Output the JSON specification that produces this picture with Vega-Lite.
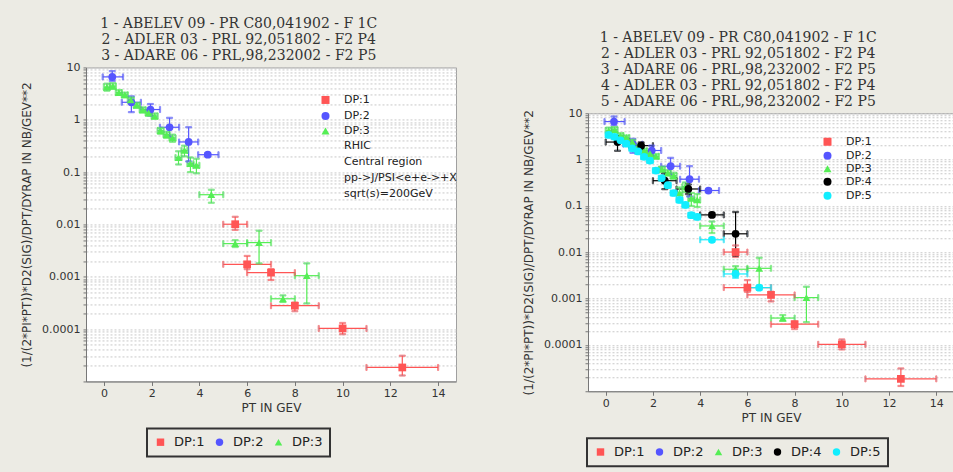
{
  "$schema": "https://vega.github.io/schema/vega-lite/v6.json",
  "background": "#ecebe4",
  "padding": {"left": 20, "top": 16, "right": 0, "bottom": 0},
  "datasets": {
    "all": [
      {"dp": "DP:1", "x": 5.5, "xlo": 5, "xhi": 6, "y": 0.0101, "ylo": 0.0079, "yhi": 0.014},
      {"dp": "DP:1", "x": 6, "xlo": 5, "xhi": 7, "y": 0.00173, "ylo": 0.0014, "yhi": 0.0025},
      {"dp": "DP:1", "x": 7, "xlo": 6, "xhi": 8, "y": 0.0012, "ylo": 0.00087, "yhi": 0.0014},
      {"dp": "DP:1", "x": 8, "xlo": 7, "xhi": 9, "y": 0.00028, "ylo": 0.00022, "yhi": 0.00032},
      {"dp": "DP:1", "x": 10, "xlo": 9, "xhi": 11, "y": 0.000103, "ylo": 0.00008, "yhi": 0.000131},
      {"dp": "DP:1", "x": 12.5, "xlo": 11, "xhi": 14, "y": 0.0000185, "ylo": 0.000013, "yhi": 0.000031},
      {"dp": "DP:2", "x": 0.35, "xlo": -0.05, "xhi": 0.8, "y": 6.6, "ylo": 5.5, "yhi": 8.5},
      {"dp": "DP:2", "x": 1.15, "xlo": 0.75, "xhi": 1.55, "y": 2.16, "ylo": 1.4, "yhi": 2.8},
      {"dp": "DP:2", "x": 1.95, "xlo": 1.55, "xhi": 2.35, "y": 1.57, "ylo": 1.2, "yhi": 2.0},
      {"dp": "DP:2", "x": 2.75, "xlo": 2.35, "xhi": 3.15, "y": 0.72, "ylo": 0.48, "yhi": 1.09},
      {"dp": "DP:2", "x": 3.55, "xlo": 3.15, "xhi": 3.95, "y": 0.377, "ylo": 0.16, "yhi": 0.72},
      {"dp": "DP:2", "x": 4.35, "xlo": 3.95, "xhi": 4.8, "y": 0.215, "ylo": 0.2, "yhi": 0.23},
      {"dp": "DP:3", "x": 0.125, "xlo": 0, "xhi": 0.25, "y": 4.2, "ylo": 3.6, "yhi": 4.9},
      {"dp": "DP:3", "x": 0.375, "xlo": 0.25, "xhi": 0.5, "y": 4.4, "ylo": 3.9, "yhi": 5.0},
      {"dp": "DP:3", "x": 0.625, "xlo": 0.5, "xhi": 0.75, "y": 3.3, "ylo": 3.0, "yhi": 3.7},
      {"dp": "DP:3", "x": 0.875, "xlo": 0.75, "xhi": 1.0, "y": 3.0, "ylo": 2.7, "yhi": 3.3},
      {"dp": "DP:3", "x": 1.125, "xlo": 1.0, "xhi": 1.25, "y": 2.4, "ylo": 2.15, "yhi": 2.65},
      {"dp": "DP:3", "x": 1.375, "xlo": 1.25, "xhi": 1.5, "y": 1.9, "ylo": 1.7, "yhi": 2.1},
      {"dp": "DP:3", "x": 1.625, "xlo": 1.5, "xhi": 1.75, "y": 1.55, "ylo": 1.38, "yhi": 1.72},
      {"dp": "DP:3", "x": 1.875, "xlo": 1.75, "xhi": 2.0, "y": 1.35, "ylo": 1.2, "yhi": 1.5},
      {"dp": "DP:3", "x": 2.125, "xlo": 2.0, "xhi": 2.25, "y": 1.18, "ylo": 1.05, "yhi": 1.32},
      {"dp": "DP:3", "x": 2.375, "xlo": 2.25, "xhi": 2.5, "y": 0.62, "ylo": 0.54, "yhi": 0.7},
      {"dp": "DP:3", "x": 2.625, "xlo": 2.5, "xhi": 2.75, "y": 0.52, "ylo": 0.45, "yhi": 0.59},
      {"dp": "DP:3", "x": 2.875, "xlo": 2.75, "xhi": 3.0, "y": 0.45, "ylo": 0.38, "yhi": 0.52},
      {"dp": "DP:3", "x": 3.125, "xlo": 3.0, "xhi": 3.25, "y": 0.19, "ylo": 0.14, "yhi": 0.25},
      {"dp": "DP:3", "x": 3.375, "xlo": 3.25, "xhi": 3.5, "y": 0.26, "ylo": 0.2, "yhi": 0.32},
      {"dp": "DP:3", "x": 3.625, "xlo": 3.5, "xhi": 3.75, "y": 0.145, "ylo": 0.1, "yhi": 0.19},
      {"dp": "DP:3", "x": 3.875, "xlo": 3.75, "xhi": 4.0, "y": 0.135, "ylo": 0.095, "yhi": 0.18},
      {"dp": "DP:3", "x": 4.5, "xlo": 4, "xhi": 5, "y": 0.037, "ylo": 0.026, "yhi": 0.046},
      {"dp": "DP:3", "x": 5.5, "xlo": 5, "xhi": 6, "y": 0.0043, "ylo": 0.0037, "yhi": 0.005},
      {"dp": "DP:3", "x": 6.5, "xlo": 6, "xhi": 7, "y": 0.0045, "ylo": 0.0018, "yhi": 0.0076},
      {"dp": "DP:3", "x": 7.5, "xlo": 7, "xhi": 8, "y": 0.00038, "ylo": 0.00033, "yhi": 0.00044},
      {"dp": "DP:3", "x": 8.5, "xlo": 8, "xhi": 9, "y": 0.00105, "ylo": 0.00031, "yhi": 0.0018},
      {"dp": "DP:4", "x": 0.5, "xlo": 0, "xhi": 1, "y": 2.39, "ylo": 1.55, "yhi": 3.2},
      {"dp": "DP:4", "x": 1.5, "xlo": 1, "xhi": 2, "y": 2.0, "ylo": 1.7, "yhi": 2.35},
      {"dp": "DP:4", "x": 2.5, "xlo": 2, "xhi": 3, "y": 0.35, "ylo": 0.23, "yhi": 0.5},
      {"dp": "DP:4", "x": 3.5, "xlo": 3, "xhi": 4, "y": 0.232, "ylo": 0.18, "yhi": 0.29},
      {"dp": "DP:4", "x": 4.5, "xlo": 4, "xhi": 5, "y": 0.064, "ylo": 0.058, "yhi": 0.071},
      {"dp": "DP:4", "x": 5.5, "xlo": 5, "xhi": 6, "y": 0.025, "ylo": 0.0085, "yhi": 0.074},
      {"dp": "DP:5", "x": 0.125, "xlo": 0, "xhi": 0.25, "y": 3.4, "ylo": 3.1, "yhi": 3.7},
      {"dp": "DP:5", "x": 0.375, "xlo": 0.25, "xhi": 0.5, "y": 3.1, "ylo": 2.85, "yhi": 3.35},
      {"dp": "DP:5", "x": 0.625, "xlo": 0.5, "xhi": 0.75, "y": 2.6, "ylo": 2.4, "yhi": 2.8},
      {"dp": "DP:5", "x": 0.875, "xlo": 0.75, "xhi": 1.0, "y": 2.2, "ylo": 2.03, "yhi": 2.37},
      {"dp": "DP:5", "x": 1.125, "xlo": 1.0, "xhi": 1.25, "y": 1.75, "ylo": 1.6, "yhi": 1.9},
      {"dp": "DP:5", "x": 1.375, "xlo": 1.25, "xhi": 1.5, "y": 1.5, "ylo": 1.38, "yhi": 1.62},
      {"dp": "DP:5", "x": 1.625, "xlo": 1.5, "xhi": 1.75, "y": 1.15, "ylo": 1.05, "yhi": 1.25},
      {"dp": "DP:5", "x": 1.875, "xlo": 1.75, "xhi": 2.0, "y": 0.95, "ylo": 0.87, "yhi": 1.03},
      {"dp": "DP:5", "x": 2.125, "xlo": 2.0, "xhi": 2.25, "y": 0.58, "ylo": 0.53, "yhi": 0.63},
      {"dp": "DP:5", "x": 2.375, "xlo": 2.25, "xhi": 2.5, "y": 0.4, "ylo": 0.36, "yhi": 0.44},
      {"dp": "DP:5", "x": 2.625, "xlo": 2.5, "xhi": 2.75, "y": 0.28, "ylo": 0.25, "yhi": 0.31},
      {"dp": "DP:5", "x": 2.875, "xlo": 2.75, "xhi": 3.0, "y": 0.19, "ylo": 0.17, "yhi": 0.21},
      {"dp": "DP:5", "x": 3.125, "xlo": 3.0, "xhi": 3.25, "y": 0.135, "ylo": 0.12, "yhi": 0.15},
      {"dp": "DP:5", "x": 3.375, "xlo": 3.25, "xhi": 3.5, "y": 0.105, "ylo": 0.094, "yhi": 0.116},
      {"dp": "DP:5", "x": 3.625, "xlo": 3.5, "xhi": 3.75, "y": 0.063, "ylo": 0.057, "yhi": 0.069},
      {"dp": "DP:5", "x": 3.875, "xlo": 3.75, "xhi": 4.0, "y": 0.058, "ylo": 0.052, "yhi": 0.064},
      {"dp": "DP:5", "x": 4.5, "xlo": 4, "xhi": 5, "y": 0.0186, "ylo": 0.0168, "yhi": 0.0205},
      {"dp": "DP:5", "x": 5.5, "xlo": 5, "xhi": 6, "y": 0.0034, "ylo": 0.0028, "yhi": 0.0041},
      {"dp": "DP:5", "x": 6.5, "xlo": 6, "xhi": 7, "y": 0.00172, "ylo": 0.00155, "yhi": 0.0019}
    ]
  },
  "config": {
    "view": {"fill": "white", "stroke": "#a0a0a0"},
    "title": {"font": "DejaVu Serif", "fontSize": 14, "fontWeight": "normal", "color": "#333333", "lineHeight": 16, "anchor": "middle", "frame": "bounds", "offset": -2},
    "axis": {"labelFont": "DejaVu Sans", "labelFontSize": 11, "labelColor": "#333333", "titleFont": "DejaVu Sans", "titleFontSize": 12, "titleFontWeight": "normal", "titleColor": "#333333", "domainColor": "#777777", "tickColor": "#777777"},
    "legend": {"labelFont": "DejaVu Sans", "labelColor": "#222222"}
  },
  "resolve": {"scale": {"x": "independent", "y": "independent", "fill": "independent", "shape": "independent", "stroke": "independent"}, "legend": {"fill": "independent", "shape": "independent", "stroke": "independent"}},
  "spacing": 64,
  "center": true,
  "hconcat": [
    {
      "title": {"text": ["1 - ABELEV 09 - PR C80,041902 - F 1C", "2 - ADLER 03 - PRL 92,051802 - F2 P4", "3 - ADARE 06 - PRL,98,232002 - F2 P5"]},
      "width": 370,
      "height": 314,
      "data": {"name": "all"},
      "transform": [{"filter": {"field": "dp", "oneOf": ["DP:1", "DP:2", "DP:3"]}}],
      "layer": [
        {
          "mark": {"type": "rule", "strokeWidth": 1.2},
          "encoding": {
            "x": {"field": "xlo", "type": "quantitative", "scale": {"domain": [-0.75, 14.75], "nice": false, "zero": false}, "axis": {"title": ["PT IN GEV", "", "", "", "", "", "", "", ""], "titleLineHeight": 12.45, "values": [0,1,2,3,4,5,6,7,8,9,10,11,12,13,14], "grid": false, "tickSize": 4, "labelPadding": 2, "titlePadding": 4, "labelFlush": false}},
            "x2": {"field": "xhi"},
            "y": {"field": "y", "type": "quantitative", "scale": {"type": "log", "domain": [0.00001, 10], "nice": false}, "axis": {"title": "(1/(2*PI*PT))*D2(SIG)/DPT/DYRAP IN NB/GEV**2", "values": [0.00001,0.00002,0.00003,0.00004,0.00005,0.00006,0.00007,0.00008,0.00009,0.0001,0.0002,0.0003,0.0004,0.0005,0.0006,0.0007,0.0008,0.0009,0.001,0.002,0.003,0.004,0.005,0.006,0.007,0.008,0.009,0.01,0.02,0.03,0.04,0.05,0.06,0.07,0.08,0.09,0.1,0.2,0.3,0.4,0.5,0.6,0.7,0.8,0.9,1,2,3,4,5,6,7,8,9,10], "labelExpr": "datum.value == 10 ? '10' : datum.value == 1 ? '1' : datum.value == 0.1 ? '0.1' : datum.value == 0.01 ? '0.01' : datum.value == 0.001 ? '0.001' : datum.value == 0.0001 ? '0.0001' : ''", "labelOverlap": false, "labelFlush": false, "grid": true, "gridDash": [2, 2], "gridColor": "#c8c8c8", "tickSize": 3, "labelPadding": 3, "titlePadding": 8}},
            "stroke": {"field": "dp", "type": "nominal", "scale": {"domain": ["DP:1", "DP:2", "DP:3"], "range": ["#ff5555", "#5555ff", "#55ee55"]}, "legend": {"orient": "none", "legendX": 61, "legendY": 361, "direction": "horizontal", "title": null, "strokeColor": "#333333", "padding": 7, "labelFontSize": 13, "labelOffset": 7, "columnPadding": 8, "symbolSize": 55, "encode": {"legend": {"update": {"strokeWidth": {"value": 2}}}, "symbols": {"update": {"shape": {"signal": "datum.value === 'DP:1' ? 'square' : datum.value === 'DP:2' ? 'circle' : 'triangle-up'"}, "fill": {"signal": "datum.value === 'DP:1' ? '#ff5555' : datum.value === 'DP:2' ? '#5555ff' : '#55ee55'"}, "strokeWidth": {"value": 0}}}}}}
          }
        },
        {
          "mark": {"type": "rule", "strokeWidth": 1.2},
          "encoding": {
            "x": {"field": "x", "type": "quantitative", "scale": {"domain": [-0.75, 14.75], "nice": false, "zero": false}},
            "y": {"field": "ylo", "type": "quantitative", "scale": {"type": "log", "domain": [0.00001, 10], "nice": false}},
            "y2": {"field": "yhi"},
            "stroke": {"field": "dp", "type": "nominal"}
          }
        },
        {
          "mark": {"type": "tick", "orient": "vertical", "size": 6, "thickness": 1.2},
          "encoding": {
            "x": {"field": "xlo", "type": "quantitative", "scale": {"domain": [-0.75, 14.75], "nice": false, "zero": false}},
            "y": {"field": "y", "type": "quantitative", "scale": {"type": "log", "domain": [0.00001, 10], "nice": false}},
            "stroke": {"field": "dp", "type": "nominal"}
          }
        },
        {
          "mark": {"type": "tick", "orient": "vertical", "size": 6, "thickness": 1.2},
          "encoding": {
            "x": {"field": "xhi", "type": "quantitative", "scale": {"domain": [-0.75, 14.75], "nice": false, "zero": false}},
            "y": {"field": "y", "type": "quantitative", "scale": {"type": "log", "domain": [0.00001, 10], "nice": false}},
            "stroke": {"field": "dp", "type": "nominal"}
          }
        },
        {
          "mark": {"type": "tick", "orient": "horizontal", "size": 6, "thickness": 1.2},
          "encoding": {
            "x": {"field": "x", "type": "quantitative", "scale": {"domain": [-0.75, 14.75], "nice": false, "zero": false}},
            "y": {"field": "ylo", "type": "quantitative", "scale": {"type": "log", "domain": [0.00001, 10], "nice": false}},
            "stroke": {"field": "dp", "type": "nominal"}
          }
        },
        {
          "mark": {"type": "tick", "orient": "horizontal", "size": 6, "thickness": 1.2},
          "encoding": {
            "x": {"field": "x", "type": "quantitative", "scale": {"domain": [-0.75, 14.75], "nice": false, "zero": false}},
            "y": {"field": "yhi", "type": "quantitative", "scale": {"type": "log", "domain": [0.00001, 10], "nice": false}},
            "stroke": {"field": "dp", "type": "nominal"}
          }
        },
        {
          "mark": {"type": "point", "filled": true, "size": 60, "opacity": 1, "strokeWidth": 0},
          "encoding": {
            "x": {"field": "x", "type": "quantitative", "scale": {"domain": [-0.75, 14.75], "nice": false, "zero": false}},
            "y": {"field": "y", "type": "quantitative", "scale": {"type": "log", "domain": [0.00001, 10], "nice": false}},
            "fill": {"field": "dp", "type": "nominal", "scale": {"domain": ["DP:1", "DP:2", "DP:3", "RHIC", "Central region", "pp->J/PSI<e+e->+X", "sqrt(s)=200GeV"], "range": ["#ff5555", "#5555ff", "#55ee55", "transparent", "transparent", "transparent", "transparent"]}, "legend": {"orient": "none", "legendX": 234, "legendY": 27, "title": null, "padding": 0, "labelFontSize": 11, "labelOffset": 13, "rowPadding": 1, "symbolSize": 64, "labelLimit": 200}},
            "shape": {"field": "dp", "type": "nominal", "scale": {"domain": ["DP:1", "DP:2", "DP:3", "RHIC", "Central region", "pp->J/PSI<e+e->+X", "sqrt(s)=200GeV"], "range": ["square", "circle", "triangle-up", "circle", "circle", "circle", "circle"]}, "legend": {"orient": "none", "legendX": 234, "legendY": 27, "title": null, "padding": 0, "labelFontSize": 11, "labelOffset": 13, "rowPadding": 1, "symbolSize": 64, "labelLimit": 200}}
          }
        }
      ]
    },
    {
      "title": {"text": ["1 - ABELEV 09 - PR C80,041902 - F 1C", "2 - ADLER 03 - PRL 92,051802 - F2 P4", "3 - ADARE 06 - PRL,98,232002 - F2 P5", "4 - ADLER 03 - PRL 92,051802 - F2 P4", "5 - ADARE 06 - PRL,98,232002 - F2 P5"]},
      "width": 366,
      "height": 278,
      "data": {"name": "all"},
      "layer": [
        {
          "mark": {"type": "rule", "strokeWidth": 1.2},
          "encoding": {
            "x": {"field": "xlo", "type": "quantitative", "scale": {"domain": [-0.75, 14.75], "nice": false, "zero": false}, "axis": {"title": "PT IN GEV", "values": [0,1,2,3,4,5,6,7,8,9,10,11,12,13,14], "grid": false, "tickSize": 4, "labelPadding": 2, "titlePadding": 4, "labelFlush": false}},
            "x2": {"field": "xhi"},
            "y": {"field": "y", "type": "quantitative", "scale": {"type": "log", "domain": [0.00001, 10], "nice": false}, "axis": {"title": "(1/(2*PI*PT))*D2(SIG)/DPT/DYRAP IN NB/GEV**2", "values": [0.00001,0.00002,0.00003,0.00004,0.00005,0.00006,0.00007,0.00008,0.00009,0.0001,0.0002,0.0003,0.0004,0.0005,0.0006,0.0007,0.0008,0.0009,0.001,0.002,0.003,0.004,0.005,0.006,0.007,0.008,0.009,0.01,0.02,0.03,0.04,0.05,0.06,0.07,0.08,0.09,0.1,0.2,0.3,0.4,0.5,0.6,0.7,0.8,0.9,1,2,3,4,5,6,7,8,9,10], "labelExpr": "datum.value == 10 ? '10' : datum.value == 1 ? '1' : datum.value == 0.1 ? '0.1' : datum.value == 0.01 ? '0.01' : datum.value == 0.001 ? '0.001' : datum.value == 0.0001 ? '0.0001' : ''", "labelOverlap": false, "labelFlush": false, "grid": true, "gridDash": [2, 2], "gridColor": "#c8c8c8", "tickSize": 3, "labelPadding": 3, "titlePadding": 8}},
            "stroke": {"field": "dp", "type": "nominal", "scale": {"domain": ["DP:1", "DP:2", "DP:3", "DP:4", "DP:5"], "range": ["#ff5555", "#5555ff", "#55ee55", "#000000", "#11eeff"]}, "legend": {"orient": "none", "legendX": -1, "legendY": 325, "direction": "horizontal", "title": null, "strokeColor": "#333333", "padding": 7, "labelFontSize": 13, "labelOffset": 7, "columnPadding": 8, "symbolSize": 55, "encode": {"legend": {"update": {"strokeWidth": {"value": 2}}}, "symbols": {"update": {"shape": {"signal": "datum.value === 'DP:1' ? 'square' : datum.value === 'DP:3' ? 'triangle-up' : 'circle'"}, "fill": {"signal": "datum.value === 'DP:1' ? '#ff5555' : datum.value === 'DP:2' ? '#5555ff' : datum.value === 'DP:3' ? '#55ee55' : datum.value === 'DP:4' ? '#000000' : '#11eeff'"}, "strokeWidth": {"value": 0}}}}}}
          }
        },
        {
          "mark": {"type": "rule", "strokeWidth": 1.2},
          "encoding": {
            "x": {"field": "x", "type": "quantitative", "scale": {"domain": [-0.75, 14.75], "nice": false, "zero": false}},
            "y": {"field": "ylo", "type": "quantitative", "scale": {"type": "log", "domain": [0.00001, 10], "nice": false}},
            "y2": {"field": "yhi"},
            "stroke": {"field": "dp", "type": "nominal"}
          }
        },
        {
          "mark": {"type": "tick", "orient": "vertical", "size": 6, "thickness": 1.2},
          "encoding": {
            "x": {"field": "xlo", "type": "quantitative", "scale": {"domain": [-0.75, 14.75], "nice": false, "zero": false}},
            "y": {"field": "y", "type": "quantitative", "scale": {"type": "log", "domain": [0.00001, 10], "nice": false}},
            "stroke": {"field": "dp", "type": "nominal"}
          }
        },
        {
          "mark": {"type": "tick", "orient": "vertical", "size": 6, "thickness": 1.2},
          "encoding": {
            "x": {"field": "xhi", "type": "quantitative", "scale": {"domain": [-0.75, 14.75], "nice": false, "zero": false}},
            "y": {"field": "y", "type": "quantitative", "scale": {"type": "log", "domain": [0.00001, 10], "nice": false}},
            "stroke": {"field": "dp", "type": "nominal"}
          }
        },
        {
          "mark": {"type": "tick", "orient": "horizontal", "size": 6, "thickness": 1.2},
          "encoding": {
            "x": {"field": "x", "type": "quantitative", "scale": {"domain": [-0.75, 14.75], "nice": false, "zero": false}},
            "y": {"field": "ylo", "type": "quantitative", "scale": {"type": "log", "domain": [0.00001, 10], "nice": false}},
            "stroke": {"field": "dp", "type": "nominal"}
          }
        },
        {
          "mark": {"type": "tick", "orient": "horizontal", "size": 6, "thickness": 1.2},
          "encoding": {
            "x": {"field": "x", "type": "quantitative", "scale": {"domain": [-0.75, 14.75], "nice": false, "zero": false}},
            "y": {"field": "yhi", "type": "quantitative", "scale": {"type": "log", "domain": [0.00001, 10], "nice": false}},
            "stroke": {"field": "dp", "type": "nominal"}
          }
        },
        {
          "mark": {"type": "point", "filled": true, "size": 60, "opacity": 1, "strokeWidth": 0},
          "encoding": {
            "x": {"field": "x", "type": "quantitative", "scale": {"domain": [-0.75, 14.75], "nice": false, "zero": false}},
            "y": {"field": "y", "type": "quantitative", "scale": {"type": "log", "domain": [0.00001, 10], "nice": false}},
            "fill": {"field": "dp", "type": "nominal", "scale": {"domain": ["DP:1", "DP:2", "DP:3", "DP:4", "DP:5", " "], "range": ["#ff5555", "#5555ff", "#55ee55", "#000000", "#11eeff", "transparent"]}, "legend": {"orient": "none", "legendX": 234, "legendY": 23, "title": null, "padding": 0, "labelFontSize": 11, "labelOffset": 13, "rowPadding": -1, "symbolSize": 64}},
            "shape": {"field": "dp", "type": "nominal", "scale": {"domain": ["DP:1", "DP:2", "DP:3", "DP:4", "DP:5", " "], "range": ["square", "circle", "triangle-up", "circle", "circle", "circle"]}, "legend": {"orient": "none", "legendX": 234, "legendY": 23, "title": null, "padding": 0, "labelFontSize": 11, "labelOffset": 13, "rowPadding": -1, "symbolSize": 64}}
          }
        }
      ]
    }
  ]
}
